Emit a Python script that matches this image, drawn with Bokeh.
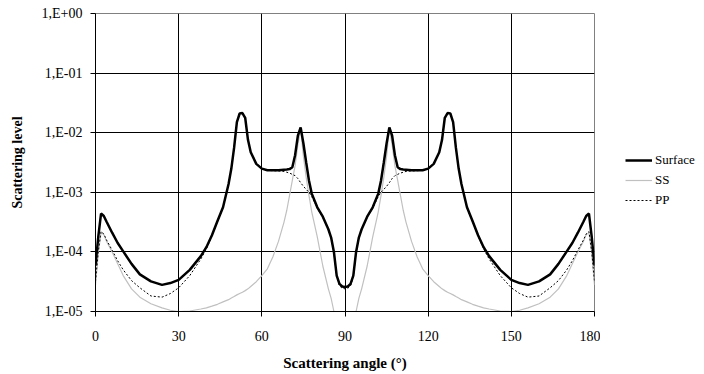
from bokeh.plotting import figure
from bokeh.layouts import row
from bokeh.models import (Range1d, FixedTicker, CustomJSTickFormatter, Legend, LegendItem)
from bokeh.embed import file_html
from bokeh.resources import INLINE

# ---- data ----
angle_left = [0, 1, 2, 3, 4, 6, 8, 10, 13, 16, 20, 24, 27, 30, 34, 38, 40, 42, 44, 46,
              48, 49, 50, 51, 52, 53, 54, 55, 56, 58, 60, 62, 64, 66, 68, 69, 70, 71,
              72, 73, 74, 75, 76, 77, 78, 80, 82, 84, 85, 86, 87, 88, 89, 90]
angle_right = [91, 92, 93, 94, 95, 96, 98, 100, 102, 103, 104, 105, 106, 107, 108, 109,
               110, 111, 112, 114, 116, 118, 120, 122, 124, 125, 126, 127, 128, 129, 130,
               131, 132, 134, 136, 138, 140, 142, 146, 150, 153, 156, 160, 164, 167, 170,
               172, 174, 176, 177, 178, 179, 180]

surface_left = [5.9e-5, 1.78e-4, 4.4e-4, 4.0e-4, 3.2e-4, 2.1e-4, 1.41e-4, 1.02e-4, 6.3e-5,
                4.2e-5, 3.2e-5, 2.8e-5, 3.0e-5, 3.4e-5, 5.0e-5, 8.5e-5, 1.2e-4, 1.9e-4,
                3.3e-4, 5.6e-4, 1.38e-3, 2.5e-3, 5.6e-3, 1.51e-2, 2.1e-2, 2.14e-2, 1.78e-2,
                7.6e-3, 4.7e-3, 3.0e-3, 2.5e-3, 2.34e-3, 2.34e-3, 2.35e-3, 2.4e-3, 2.42e-3,
                2.45e-3, 2.63e-3, 4.2e-3, 8.9e-3, 1.23e-2, 6.6e-3, 3.16e-3, 1.58e-3, 9.5e-4,
                5.6e-4, 3.9e-4, 2.4e-4, 1.74e-4, 1.0e-4, 4.0e-5, 2.9e-5, 2.63e-5, 2.57e-5]
surface_right = [2.63e-5, 2.9e-5, 4.0e-5, 1.0e-4, 1.74e-4, 2.4e-4, 3.9e-4, 5.6e-4, 9.5e-4,
                 1.58e-3, 3.16e-3, 6.6e-3, 1.23e-2, 8.9e-3, 4.2e-3, 2.63e-3, 2.45e-3,
                 2.42e-3, 2.4e-3, 2.35e-3, 2.34e-3, 2.34e-3, 2.5e-3, 3.0e-3, 4.7e-3, 7.6e-3,
                 1.78e-2, 2.14e-2, 2.1e-2, 1.51e-2, 5.6e-3, 2.5e-3, 1.38e-3, 5.6e-4, 3.3e-4,
                 1.9e-4, 1.2e-4, 8.5e-5, 5.0e-5, 3.4e-5, 3.0e-5, 2.8e-5, 3.2e-5, 4.2e-5,
                 6.3e-5, 1.02e-4, 1.41e-4, 2.1e-4, 3.2e-4, 4.0e-4, 4.4e-4, 1.78e-4, 5.9e-5]

ss_left = [2.8e-5, 9.5e-5, 2.1e-4, 1.95e-4, 1.5e-4, 1.0e-4, 6.3e-5, 4.0e-5, 2.4e-5, 1.74e-5,
           1.35e-5, 1.15e-5, 1.05e-5, 1.0e-5, 1.02e-5, 1.1e-5, 1.15e-5, 1.23e-5, 1.32e-5,
           1.45e-5, 1.58e-5, 1.68e-5, 1.78e-5, 1.9e-5, 2.0e-5, 2.1e-5, 2.24e-5, 2.4e-5,
           2.63e-5, 3.16e-5, 4.0e-5, 5.2e-5, 8.3e-5, 1.5e-4, 3.16e-4, 5.0e-4, 8.9e-4,
           1.58e-3, 2.8e-3, 6.3e-3, 1.17e-2, 4.0e-3, 1.78e-3, 8.9e-4, 4.7e-4, 1.78e-4,
           5.8e-5, 2.4e-5, 1.66e-5, 1.0e-5, 5.0e-6, 2.0e-6, 8.0e-7, 5.0e-7]
ss_right = [8.0e-7, 2.0e-6, 5.0e-6, 1.0e-5, 1.66e-5, 2.4e-5, 5.8e-5, 1.78e-4, 4.7e-4,
            8.9e-4, 1.78e-3, 4.0e-3, 1.17e-2, 6.3e-3, 2.8e-3, 1.58e-3, 8.9e-4, 5.0e-4,
            3.16e-4, 1.5e-4, 8.3e-5, 5.2e-5, 4.0e-5, 3.16e-5, 2.63e-5, 2.4e-5, 2.24e-5,
            2.1e-5, 2.0e-5, 1.9e-5, 1.78e-5, 1.68e-5, 1.58e-5, 1.45e-5, 1.32e-5, 1.23e-5,
            1.15e-5, 1.1e-5, 1.02e-5, 1.0e-5, 1.05e-5, 1.15e-5, 1.35e-5, 1.74e-5, 2.4e-5,
            4.0e-5, 6.3e-5, 1.0e-4, 1.5e-4, 1.95e-4, 2.1e-4, 9.5e-5, 2.8e-5]

pp_left = [3.2e-5, 1.0e-4, 2.2e-4, 2.0e-4, 1.58e-4, 1.07e-4, 7.1e-5, 5.0e-5, 3.3e-5, 2.5e-5,
           1.82e-5, 1.74e-5, 2.0e-5, 2.5e-5, 4.0e-5, 7.6e-5, 1.12e-4, 1.86e-4, 3.2e-4,
           5.5e-4, 1.35e-3, 2.5e-3, 5.6e-3, 1.51e-2, 2.1e-2, 2.14e-2, 1.78e-2, 7.6e-3,
           4.7e-3, 3.0e-3, 2.5e-3, 2.34e-3, 2.3e-3, 2.28e-3, 2.24e-3, 2.17e-3, 2.1e-3,
           2.0e-3, 1.9e-3, 1.7e-3, 1.45e-3, 1.26e-3, 1.12e-3, 1.0e-3, 8.5e-4, 5.4e-4,
           3.8e-4, 2.34e-4, 1.7e-4, 9.8e-5, 3.8e-5, 2.7e-5, 2.45e-5, 2.4e-5]
pp_right = [2.45e-5, 2.7e-5, 3.8e-5, 9.8e-5, 1.7e-4, 2.34e-4, 3.8e-4, 5.4e-4, 8.5e-4, 1.0e-3,
            1.12e-3, 1.26e-3, 1.45e-3, 1.7e-3, 1.9e-3, 2.0e-3, 2.1e-3, 2.17e-3, 2.24e-3,
            2.28e-3, 2.3e-3, 2.34e-3, 2.5e-3, 3.0e-3, 4.7e-3, 7.6e-3, 1.78e-2, 2.14e-2,
            2.1e-2, 1.51e-2, 5.6e-3, 2.5e-3, 1.35e-3, 5.5e-4, 3.2e-4, 1.86e-4, 1.12e-4,
            7.6e-5, 4.0e-5, 2.5e-5, 2.0e-5, 1.74e-5, 1.82e-5, 2.5e-5, 3.3e-5, 5.0e-5,
            7.1e-5, 1.07e-4, 1.58e-4, 2.0e-4, 2.2e-4, 1.0e-4, 3.2e-5]

series_names = ["Surface", "SS", "PP"]
x_ticks = [0, 30, 60, 90, 120, 150, 180]
y_ticks = [1e-5, 1e-4, 1e-3, 1e-2, 1e-1, 1e0]

angle = angle_left + angle_right
surface = surface_left + surface_right
ss = ss_left + ss_right
pp = pp_left + pp_right
series = {"Surface": surface, "SS": ss, "PP": pp}

FONT = "Liberation Serif"
STYLE = {
    "Surface": dict(line_color="black", line_width=2.5),
    "SS": dict(line_color="#c0c0c0", line_width=1.2),
    "PP": dict(line_color="black", line_width=1, line_dash="2 2"),
}

p = figure(width=600, height=374, y_axis_type="log",
           x_range=Range1d(0, 180), y_range=Range1d(1e-5, 1.0),
           output_backend="svg", toolbar_location=None,
           min_border_left=95, min_border_right=6, min_border_top=13,
           min_border_bottom=63)

p.outline_line_color = "#808080"
p.outline_line_width = 1
p.background_fill_color = "white"
p.border_fill_color = "white"

# grid
p.xgrid.ticker = FixedTicker(ticks=[30, 60, 90, 120, 150])
p.ygrid.ticker = FixedTicker(ticks=[1e-4, 1e-3, 1e-2, 1e-1])
p.xgrid.grid_line_color = "black"
p.ygrid.grid_line_color = "black"
p.xgrid.grid_line_width = 1
p.ygrid.grid_line_width = 1

# x axis
xa = p.xaxis[0]
xa.ticker = FixedTicker(ticks=x_ticks)
xa.minor_tick_line_color = None
xa.major_tick_out = 5
xa.major_tick_in = 0
xa.axis_line_color = "black"
xa.major_tick_line_color = "black"
xa.major_label_text_font = FONT
xa.major_label_text_font_size = "14px"
xa.major_label_text_color = "black"
xa.major_label_standoff = 14
xa.axis_label = "Scattering angle (°)"
xa.axis_label_text_font = FONT
xa.axis_label_text_font_style = "bold"
xa.axis_label_text_font_size = "15px"
xa.axis_label_text_color = "black"
xa.axis_label_standoff = 11

# y axis
ya = p.yaxis[0]
ya.ticker = FixedTicker(ticks=y_ticks)
ya.minor_tick_line_color = None
ya.major_tick_out = 5
ya.major_tick_in = 0
ya.axis_line_color = "black"
ya.major_tick_line_color = "black"
ya.formatter = CustomJSTickFormatter(code="""
const e = Math.round(Math.log10(tick));
const s = e < 0 ? "-" : "+";
const a = Math.abs(e);
return "1,E" + s + (a < 10 ? "0" : "") + a;
""")
ya.major_label_text_font = FONT
ya.major_label_text_font_size = "14px"
ya.major_label_text_color = "black"
ya.major_label_standoff = 8
ya.axis_label = "Scattering level"
ya.axis_label_text_font = FONT
ya.axis_label_text_font_style = "bold"
ya.axis_label_text_font_size = "14px"
ya.axis_label_text_color = "black"
ya.axis_label_standoff = 14

p.line(angle, ss, **STYLE["SS"])
p.line(angle, pp, **STYLE["PP"])
p.line(angle, surface, **STYLE["Surface"])

# ---- legend panel (to the right of the plot area) ----
# its ranges lie outside the data, so its lines only appear as legend swatches
pl = figure(width=104, height=374, x_range=Range1d(1000, 1001), y_range=Range1d(0, 1),
            output_backend="svg", toolbar_location=None,
            min_border_left=0, min_border_right=0, min_border_top=0,
            min_border_bottom=0)
pl.axis.visible = False
pl.grid.visible = False
pl.outline_line_color = None
pl.background_fill_color = "white"
pl.border_fill_color = "white"

items = []
for name in series_names:
    r = pl.line(angle, series[name], **STYLE[name])
    items.append(LegendItem(label=name, renderers=[r]))

legend = Legend(items=items, location=(25, 101), orientation="vertical",
                glyph_width=27, glyph_height=20, label_height=20,
                label_standoff=3, spacing=0, padding=0, margin=0,
                label_text_font=FONT, label_text_font_size="13px",
                label_text_color="black",
                background_fill_alpha=0, border_line_color=None)
pl.add_layout(legend, "center")

layout = row(p, pl)
open("out.html", "w").write(file_html(layout, INLINE))
